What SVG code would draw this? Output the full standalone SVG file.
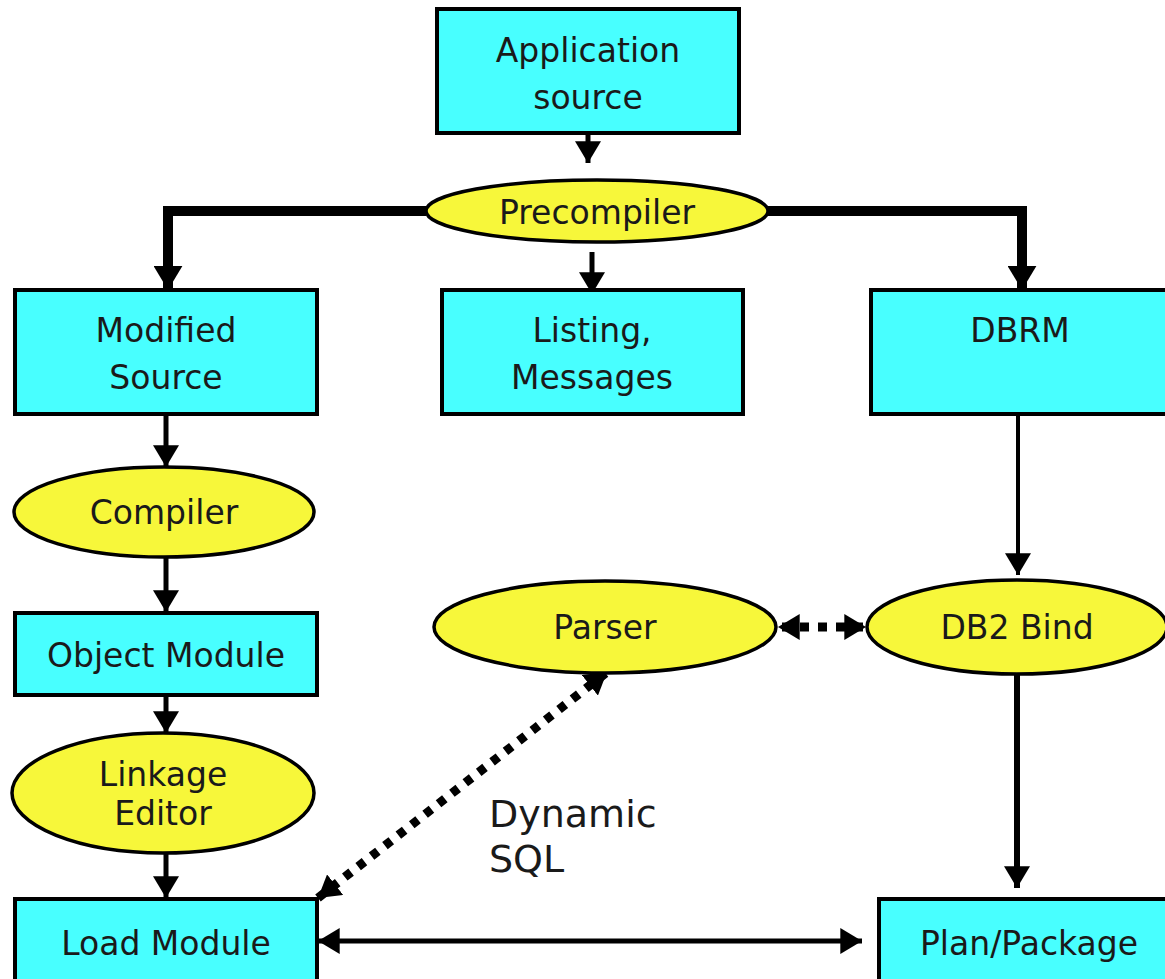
<svg xmlns="http://www.w3.org/2000/svg" width="1165" height="979" viewBox="0 0 1165 979">
<defs>
<style>
.box{fill:#48FFFF;stroke:#000;stroke-width:4}
.ell{fill:#F7F73A;stroke:#000;stroke-width:3.5}
.t{font-family:"DejaVu Sans",Verdana,sans-serif;font-size:33px;fill:#1a1a1a;text-anchor:middle;dominant-baseline:central}
.lbl{font-family:"DejaVu Sans",Verdana,sans-serif;font-size:38px;fill:#1a1a1a}
.c{fill:none;stroke:#000}
</style>
<marker id="ah" viewBox="0 0 10 12" refX="10" refY="6" markerWidth="22" markerHeight="26" markerUnits="userSpaceOnUse" orient="auto-start-reverse"><path d="M0,0 L10,6 L0,12 Z" fill="#000"/></marker>
<marker id="ahb" viewBox="0 0 10 12" refX="10" refY="6" markerWidth="24" markerHeight="29" markerUnits="userSpaceOnUse" orient="auto-start-reverse"><path d="M0,0 L10,6 L0,12 Z" fill="#000"/></marker>
</defs>
<rect width="1165" height="979" fill="#fff"/>
<g id="connectors">
<path class="c" d="M588,128 V163" stroke-width="5" marker-end="url(#ah)"/>
<path class="c" d="M426,211 H168 V290" stroke-width="10" marker-end="url(#ahb)"/>
<path class="c" d="M768,211 H1022 V290" stroke-width="10" marker-end="url(#ahb)"/>
<path class="c" d="M592,252 V294" stroke-width="5" marker-end="url(#ah)"/>
<path class="c" d="M166,414 V467" stroke-width="5" marker-end="url(#ah)"/>
<path class="c" d="M166,557 V612" stroke-width="5" marker-end="url(#ah)"/>
<path class="c" d="M166,695 V733" stroke-width="5" marker-end="url(#ah)"/>
<path class="c" d="M166,853 V898" stroke-width="5" marker-end="url(#ah)"/>
<path class="c" d="M1018,414 V575" stroke-width="4" marker-end="url(#ah)"/>
<path class="c" d="M1017,674 V888" stroke-width="6" marker-end="url(#ah)"/>
<path class="c" d="M318,941 H862" stroke-width="5" marker-start="url(#ah)" marker-end="url(#ah)"/>
<path class="c" d="M778,627 H866" stroke-width="9" stroke-dasharray="9 9" stroke-dashoffset="-4" marker-start="url(#ah)" marker-end="url(#ah)"/>
<path class="c" d="M318,898 L607,672" stroke-width="9" stroke-dasharray="8 9" marker-start="url(#ah)" marker-end="url(#ah)"/>
</g>
<g id="app-source"><rect class="box" x="437" y="9" width="302" height="124"/><text class="t" x="588" y="50">Application</text><text class="t" x="588" y="97">source</text></g>
<g id="precompiler"><ellipse class="ell" cx="597" cy="211" rx="171" ry="31"/><text class="t" x="597" y="212">Precompiler</text></g>
<g id="modified-source"><rect class="box" x="15" y="290" width="302" height="124"/><text class="t" x="166" y="330">Modified</text><text class="t" x="166" y="377">Source</text></g>
<g id="listing"><rect class="box" x="442" y="290" width="301" height="124"/><text class="t" x="592" y="330">Listing,</text><text class="t" x="592" y="377">Messages</text></g>
<g id="dbrm"><rect class="box" x="871" y="290" width="298" height="124"/><text class="t" x="1020" y="330">DBRM</text></g>
<g id="compiler"><ellipse class="ell" cx="164" cy="512" rx="150" ry="45"/><text class="t" x="164" y="512">Compiler</text></g>
<g id="object-module"><rect class="box" x="15" y="613" width="302" height="82"/><text class="t" x="166" y="655">Object Module</text></g>
<g id="linkage-editor"><ellipse class="ell" cx="163" cy="793" rx="151" ry="60"/><text class="t" x="163" y="774">Linkage</text><text class="t" x="163" y="813">Editor</text></g>
<g id="load-module"><rect class="box" x="15" y="899" width="302" height="90"/><text class="t" x="166" y="943">Load Module</text></g>
<g id="parser"><ellipse class="ell" cx="605" cy="627" rx="171" ry="46"/><text class="t" x="605" y="627">Parser</text></g>
<g id="db2-bind"><ellipse class="ell" cx="1017" cy="627" rx="150" ry="47"/><text class="t" x="1017" y="627">DB2 Bind</text></g>
<g id="plan-package"><rect class="box" x="879" y="899" width="292" height="90"/><text class="t" x="1029" y="943">Plan/Package</text></g>
<g id="dynamic-sql-label"><text class="lbl" x="489" y="827">Dynamic</text><text class="lbl" x="489" y="872">SQL</text></g>
</svg>
